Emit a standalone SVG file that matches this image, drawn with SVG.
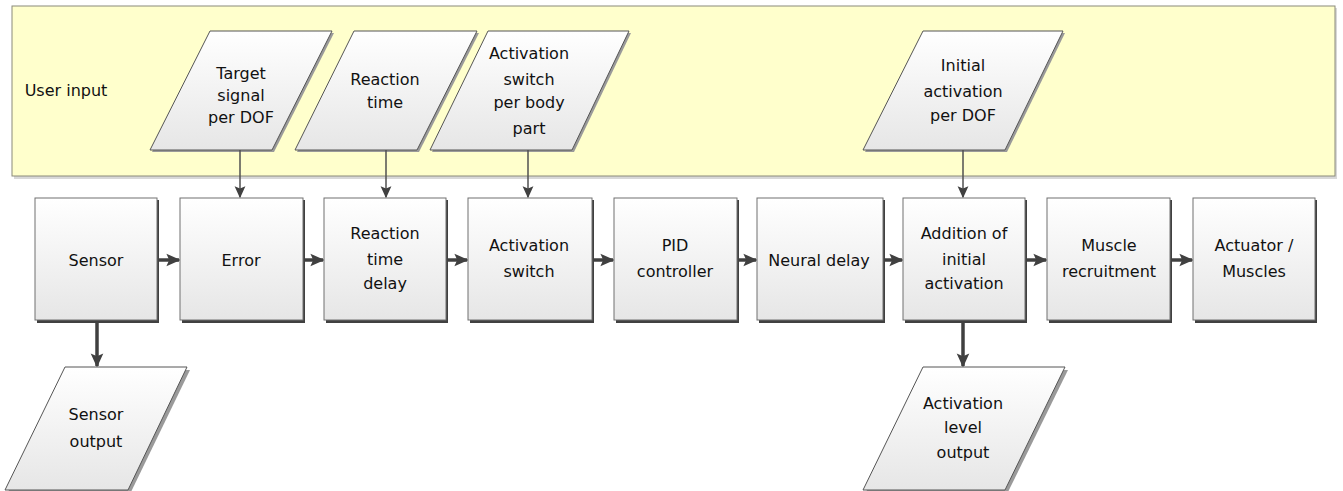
<svg xmlns="http://www.w3.org/2000/svg" width="1343" height="491" viewBox="0 0 1343 491">
<defs>
<linearGradient id="g" x1="0" y1="0" x2="0" y2="1">
<stop offset="0" stop-color="#ffffff"/>
<stop offset="1" stop-color="#e6e6e6"/>
</linearGradient>
<marker id="ah" viewBox="0 0 10 10" refX="9" refY="5" markerWidth="12" markerHeight="12" markerUnits="userSpaceOnUse" orient="auto">
<path d="M0,0.5 L10,5 L0,9.5 L2,5 Z" fill="#404040"/>
</marker>
<marker id="ah2" viewBox="0 0 10 10" refX="9" refY="5" markerWidth="14" markerHeight="14" markerUnits="userSpaceOnUse" orient="auto">
<path d="M0,0.5 L10,5 L0,9.5 L2,5 Z" fill="#404040"/>
</marker>
</defs>
<style>
.t{font-family:"DejaVu Sans",Verdana,sans-serif;font-size:16px;fill:#111;text-anchor:middle;dominant-baseline:central}
.box{fill:url(#g);stroke:#707070;stroke-width:1}
.sh{fill:#404040}
.par{fill:url(#g);stroke:#555;stroke-width:1}
.psh{fill:#9a9a9a}
.thick{stroke:#404040;stroke-width:3.5;fill:none}
.thin{stroke:#505050;stroke-width:1.5;fill:none}
</style>
<g id="panel">
<rect x="14" y="8" width="1323" height="171" fill="#d8d8d8"/>
<rect x="12" y="6" width="1323" height="170" fill="#ffffcc" stroke="#8a8a7a" stroke-width="1"/>
<text class="t" x="66" y="90">User input</text>
</g>
<g id="in-target">
<polygon class="psh" points="212,33 334,33 274,152 152,152"/>
<polygon class="par" points="210,31 332,31 272,150 150,150"/>
<text class="t" x="241" y="73">Target</text>
<text class="t" x="241" y="95">signal</text>
<text class="t" x="241" y="117">per DOF</text>
</g>
<g id="in-reaction">
<polygon class="psh" points="356,33 479,33 419,152 297,152"/>
<polygon class="par" points="354,31 477,31 417,150 295,150"/>
<text class="t" x="385" y="79">Reaction</text>
<text class="t" x="385" y="102">time</text>
</g>
<g id="in-switch">
<polygon class="psh" points="490,33 631,33 574,152 432,152"/>
<polygon class="par" points="488,31 629,31 572,150 430,150"/>
<text class="t" x="529" y="53">Activation</text>
<text class="t" x="529" y="79">switch</text>
<text class="t" x="529" y="102">per body</text>
<text class="t" x="529" y="128">part</text>
</g>
<g id="in-initial">
<polygon class="psh" points="925,33 1065,33 1007,152 865,152"/>
<polygon class="par" points="923,31 1063,31 1005,150 863,150"/>
<text class="t" x="963" y="65">Initial</text>
<text class="t" x="963" y="91">activation</text>
<text class="t" x="963" y="115">per DOF</text>
</g>
<g id="sensor">
<rect class="sh" x="37" y="200" width="122" height="123"/>
<rect class="box" x="35" y="198" width="122" height="122"/>
<text class="t" x="96" y="260">Sensor</text>
</g>
<g id="error">
<rect class="sh" x="182" y="200" width="123" height="123"/>
<rect class="box" x="180" y="198" width="123" height="122"/>
<text class="t" x="241" y="260">Error</text>
</g>
<g id="reaction-delay">
<rect class="sh" x="326" y="200" width="122" height="123"/>
<rect class="box" x="324" y="198" width="122" height="122"/>
<text class="t" x="385" y="233">Reaction</text>
<text class="t" x="385" y="259">time</text>
<text class="t" x="385" y="283">delay</text>
</g>
<g id="switch">
<rect class="sh" x="470" y="200" width="124" height="123"/>
<rect class="box" x="468" y="198" width="124" height="122"/>
<text class="t" x="529" y="245">Activation</text>
<text class="t" x="529" y="271">switch</text>
</g>
<g id="pid">
<rect class="sh" x="616" y="200" width="123" height="123"/>
<rect class="box" x="614" y="198" width="123" height="122"/>
<text class="t" x="675" y="245">PID</text>
<text class="t" x="675" y="271">controller</text>
</g>
<g id="neural">
<rect class="sh" x="759" y="200" width="126" height="123"/>
<rect class="box" x="757" y="198" width="126" height="122"/>
<text class="t" x="819" y="260">Neural delay</text>
</g>
<g id="addition">
<rect class="sh" x="905" y="200" width="122" height="123"/>
<rect class="box" x="903" y="198" width="122" height="122"/>
<text class="t" x="964" y="233">Addition of</text>
<text class="t" x="964" y="259">initial</text>
<text class="t" x="964" y="283">activation</text>
</g>
<g id="recruitment">
<rect class="sh" x="1049" y="200" width="123" height="123"/>
<rect class="box" x="1047" y="198" width="123" height="122"/>
<text class="t" x="1109" y="245">Muscle</text>
<text class="t" x="1109" y="271">recruitment</text>
</g>
<g id="actuator">
<rect class="sh" x="1195" y="200" width="122" height="123"/>
<rect class="box" x="1193" y="198" width="122" height="122"/>
<text class="t" x="1254" y="245">Actuator /</text>
<text class="t" x="1254" y="271">Muscles</text>
</g>
<g id="out-sensor">
<polygon class="psh" points="68,370 190,370 131,492 8,492"/>
<polygon class="par" points="65,367 187,367 128,490 5,490"/>
<text class="t" x="96" y="414">Sensor</text>
<text class="t" x="96" y="441">output</text>
</g>
<g id="out-activation">
<polygon class="psh" points="926,370 1068,370 1008,492 866,492"/>
<polygon class="par" points="923,367 1065,367 1005,490 863,490"/>
<text class="t" x="963" y="403">Activation</text>
<text class="t" x="963" y="427">level</text>
<text class="t" x="963" y="452">output</text>
</g>
<g id="connectors">
<line class="thin" x1="240" y1="150" x2="240" y2="197" marker-end="url(#ah)"/>
<line class="thin" x1="386" y1="150" x2="386" y2="197" marker-end="url(#ah)"/>
<line class="thin" x1="528" y1="150" x2="528" y2="197" marker-end="url(#ah)"/>
<line class="thin" x1="963" y1="150" x2="963" y2="197" marker-end="url(#ah)"/>
<line class="thick" x1="159" y1="260" x2="179" y2="260" marker-end="url(#ah2)"/>
<line class="thick" x1="305" y1="260" x2="323" y2="260" marker-end="url(#ah2)"/>
<line class="thick" x1="448" y1="260" x2="467" y2="260" marker-end="url(#ah2)"/>
<line class="thick" x1="594" y1="260" x2="613" y2="260" marker-end="url(#ah2)"/>
<line class="thick" x1="739" y1="260" x2="756" y2="260" marker-end="url(#ah2)"/>
<line class="thick" x1="885" y1="260" x2="902" y2="260" marker-end="url(#ah2)"/>
<line class="thick" x1="1027" y1="260" x2="1046" y2="260" marker-end="url(#ah2)"/>
<line class="thick" x1="1172" y1="260" x2="1192" y2="260" marker-end="url(#ah2)"/>
<line class="thick" x1="97" y1="323" x2="97" y2="366" marker-end="url(#ah2)"/>
<line class="thick" x1="963" y1="323" x2="963" y2="366" marker-end="url(#ah2)"/>
</g>
</svg>
